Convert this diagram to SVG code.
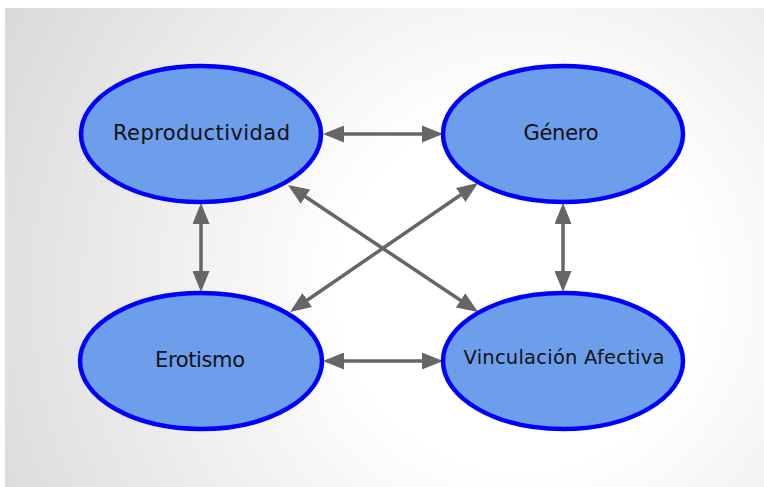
<svg xmlns="http://www.w3.org/2000/svg" width="764" height="487" viewBox="0 0 764 487">
  <defs>
    <radialGradient id="bg" cx="520" cy="290" r="600" gradientUnits="userSpaceOnUse">
      <stop offset="0.3" stop-color="#ffffff"/>
      <stop offset="1" stop-color="#d8d8d8"/>
    </radialGradient>
    <marker id="ah" viewBox="0 0 21 17" refX="17" refY="8.5" markerWidth="21" markerHeight="17" markerUnits="userSpaceOnUse" orient="auto-start-reverse">
      <path d="M0,0 L21,8.5 L0,17 z" fill="#666666"/>
    </marker>
  </defs>
  <style>
    .node ellipse { fill: #6d9eeb; stroke: #0000ff; stroke-width: 4.5; }
    .node text { font-family: "DejaVu Sans", "Liberation Sans", sans-serif; font-size: 21px; fill: #111111; text-anchor: middle; }
    #connectors line { stroke: #666666; stroke-width: 3.5; marker-start: url(#ah); marker-end: url(#ah); }
  </style>
  <rect x="0" y="0" width="764" height="487" fill="#ffffff"/>
  <rect x="5" y="8" width="759" height="479" fill="url(#bg)"/>

  <g id="connectors">
    <line x1="327" y1="134" x2="439" y2="134"/>
    <line x1="327" y1="361" x2="439" y2="361"/>
    <line x1="201" y1="207" x2="201" y2="288"/>
    <line x1="563" y1="207" x2="563" y2="288"/>
    <line x1="291.3" y1="187.2" x2="474.7" y2="309.8"/>
    <line x1="474.7" y1="185.3" x2="293.3" y2="309.7"/>
  </g>

  <g id="reproductividad" class="node">
    <ellipse cx="201" cy="134" rx="120" ry="68"/>
    <text x="201.5" y="140" textLength="177" lengthAdjust="spacing">Reproductividad</text>
  </g>
  <g id="genero" class="node">
    <ellipse cx="563" cy="134" rx="120" ry="68"/>
    <text x="561" y="140" textLength="75" lengthAdjust="spacing">Género</text>
  </g>
  <g id="erotismo" class="node">
    <ellipse cx="201" cy="361" rx="121" ry="68"/>
    <text x="200" y="367" textLength="90" lengthAdjust="spacing">Erotismo</text>
  </g>
  <g id="vinculacion" class="node">
    <ellipse cx="563" cy="361" rx="120" ry="68"/>
    <text x="564" y="364" style="font-size:19.5px" textLength="201" lengthAdjust="spacing">Vinculación Afectiva</text>
  </g>
</svg>
